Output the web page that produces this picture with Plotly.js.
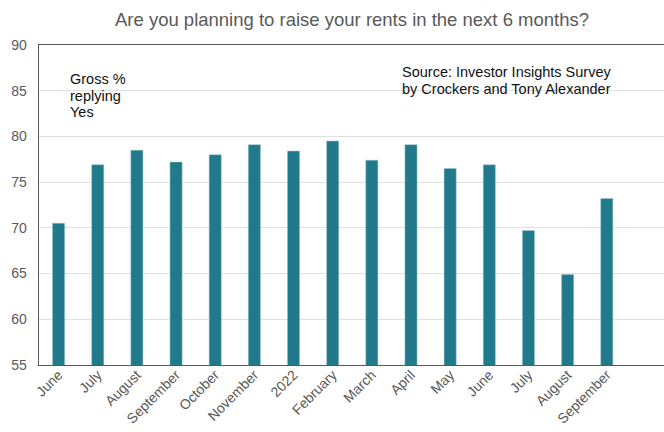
<!DOCTYPE html>
<html><head><meta charset="utf-8">
<script src="https://cdn.plot.ly/plotly-3.0.1.min.js"></script>
<style>html,body{margin:0;padding:0;background:#fff;overflow:hidden}#wrap{width:664px;height:432px;overflow:hidden}#chart{width:680px;height:432px}</style>
</head><body><div id="wrap"><div id="chart"></div></div>
<script>
const months = ["June","July","August","September","October","November","2022","February","March","April","May","June ","July ","August ","September "];
const tickLabels = ["June","July","August","September","October","November","2022","February","March","April","May","June","July","August","September"];
const grossYes = [70.5,76.9,78.5,77.2,78.0,79.1,78.4,79.5,77.4,79.1,76.5,76.9,69.7,64.9,73.2];

const FONT = "Liberation Sans, Arial, sans-serif";
const trace = {
  type: "bar",
  x: months.map((m,i)=>i),
  y: grossYes,
  marker: {color: "#217a8b", line: {color: "#9ec7cf", width: 0.5}},
  hoverinfo: "skip"
};

function note(text, x, y) {
  return {xref: "paper", yref: "paper", x: x, y: y, xanchor: "left", yanchor: "middle",
          align: "left", showarrow: false, text: text,
          font: {family: FONT, size: 14.5, color: "#111"}};
}

const layout = {
  width: 680, height: 432,
  margin: {l: 39, r: 0, t: 45, b: 67},
  paper_bgcolor: "#fff", plot_bgcolor: "#fff",
  title: {text: "Are you planning to raise your rents in the next 6 months?",
          font: {family: FONT, size: 18.5, color: "#595959"},
          xref: "container", x: 352/680, xanchor: "center", y: 1 - 20/432, yanchor: "middle"},
  bargap: 0.69,
  showlegend: false,
  xaxis: {
    range: [-0.5, 15.87],
    tickmode: "array", tickvals: months.map((m,i)=>i), ticktext: tickLabels,
    tickangle: -45, showgrid: false, zeroline: false,
    showline: true, linecolor: "#595959", linewidth: 1.3, mirror: true,
    ticks: "", ticklabelstandoff: -5,
    tickfont: {family: FONT, size: 14, color: "#595959"}
  },
  yaxis: {
    range: [55, 90], tickvals: [55,60,65,70,75,80,85,90],
    showgrid: true, gridcolor: "#e0e0e0", gridwidth: 1, zeroline: false,
    showline: true, linecolor: "#595959", linewidth: 1.3,
    ticks: "", ticklabelstandoff: 8,
    tickfont: {family: FONT, size: 14, color: "#595959"}
  },
  annotations: [
    note("Gross %", 0.0452, 0.893),
    note("replying", 0.0452, 0.841),
    note("Yes", 0.0452, 0.791),
    note("Source: Investor Insights Survey", 0.563, 0.915),
    note("by Crockers and Tony Alexander", 0.563, 0.862)
  ]
};

Plotly.newPlot("chart", [trace], layout, {displayModeBar: false, staticPlot: true});
</script></body></html>
